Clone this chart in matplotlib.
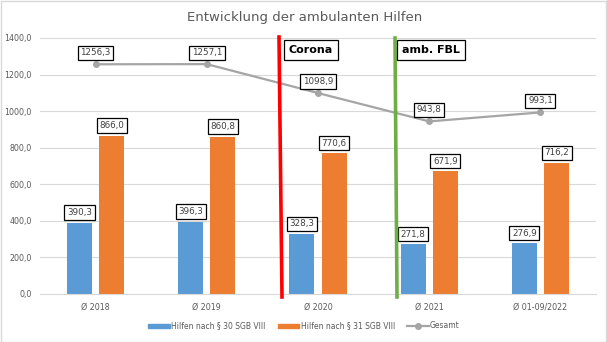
import matplotlib
matplotlib.use("Agg")
import matplotlib.pyplot as plt
from matplotlib.lines import Line2D
from matplotlib.patches import Rectangle, Patch

categories = ["Ø 2018", "Ø 2019", "Ø 2020", "Ø 2021", "Ø 01-09/2022"]
hilfen_30 = [390.3, 396.3, 328.3, 271.8, 276.9]
hilfen_31 = [866.0, 860.8, 770.6, 671.9, 716.2]
gesamt = [1256.3, 1257.1, 1098.9, 943.8, 993.1]
series_names = ["Hilfen nach § 30 SGB VIII", "Hilfen nach § 31 SGB VIII", "Gesamt"]
yticks = [0, 200, 400, 600, 800, 1000, 1200, 1400]

def fmt(v):
    return f"{v:.1f}".replace(".", ",")

W, H = 607, 342
fig = plt.figure(figsize=(W / 100, H / 100), dpi=100)
plt.rcParams['font.family'] = ['DejaVu Sans']
ax = fig.add_axes([40 / W, (H - 294) / H, 556 / W, 256 / H])

x = list(range(len(categories)))
bw = 0.225
off = 0.145
blue = "#5B9BD5"
orange = "#ED7D31"
grey = "#A5A5A5"

ax.bar([i - off for i in x], hilfen_30, width=bw, color=blue, zorder=2)
ax.bar([i + off for i in x], hilfen_31, width=bw, color=orange, zorder=2)
ax.plot(x, gesamt, color=grey, lw=1.6, marker="o", ms=4, zorder=3)

box = dict(boxstyle="square,pad=0.3", fc="white", ec="black", lw=0.9)
for i in x:
    ax.annotate(fmt(hilfen_30[i]), (i - off, hilfen_30[i]), xytext=(0, 4), textcoords="offset points",
                ha="center", va="bottom", fontsize=6.3, color="#404040", bbox=box, zorder=5)
    ax.annotate(fmt(hilfen_31[i]), (i + off, hilfen_31[i]), xytext=(0, 4), textcoords="offset points",
                ha="center", va="bottom", fontsize=6.3, color="#404040", bbox=box, zorder=5)
    ax.annotate(fmt(gesamt[i]), (i, gesamt[i]), xytext=(0, 5), textcoords="offset points",
                ha="center", va="bottom", fontsize=6.3, color="#404040", bbox=box, zorder=5)

ax.set_xlim(-0.5, len(categories) - 0.5)
ax.set_ylim(0, 1400)
ax.set_yticks(yticks)
ax.set_yticklabels([fmt(v) for v in yticks], fontsize=5.7, color="#595959")
ax.set_xticks(x)
ax.set_xticklabels(categories, fontsize=5.7, color="#595959")
ax.tick_params(length=0, pad=6)
ax.grid(axis="y", color="#D9D9D9", lw=0.8, zorder=0)
ax.set_axisbelow(True)
for s in ["top", "right", "left"]:
    ax.spines[s].set_visible(False)
ax.spines["bottom"].set_color("#D9D9D9")

# vertical marker lines (figure coords)
fig.add_artist(Line2D([279 / W, 282 / W], [(H - 37) / H, (H - 297) / H], color="#FF0000", lw=2.6, zorder=6))
fig.add_artist(Line2D([395 / W, 397 / W], [(H - 38) / H, (H - 297) / H], color="#70AD47", lw=2.6, zorder=6))

fig.text(311 / W, (H - 50) / H, "Corona", ha="center", va="center", fontsize=8, fontweight="bold",
         bbox=dict(boxstyle="square,pad=0.45", fc="white", ec="black", lw=0.9), zorder=7)
fig.text(431 / W, (H - 50) / H, "amb. FBL", ha="center", va="center", fontsize=8, fontweight="bold",
         bbox=dict(boxstyle="square,pad=0.45", fc="white", ec="black", lw=0.9), zorder=7)

fig.text(305 / W, (H - 17) / H, "Entwicklung der ambulanten Hilfen", ha="center", va="center",
         fontsize=9.5, color="#595959")

handles = [Patch(color=blue), Patch(color=orange),
           Line2D([], [], color=grey, lw=1.6, marker="o", ms=4)]
fig.legend(handles, series_names, loc="center", bbox_to_anchor=(304 / W, (H - 326) / H), ncol=3,
           frameon=False, fontsize=5.5, labelcolor="#595959", handlelength=2.8, handleheight=0.5,
           columnspacing=1.6, handletextpad=0.2)

fig.add_artist(Rectangle((0.5 / W, 0.5 / H), 1 - 1.5 / W, 1 - 1.5 / H, transform=fig.transFigure,
                         fill=False, ec="#D9D9D9", lw=1))

fig.savefig("out.png", dpi=100)
